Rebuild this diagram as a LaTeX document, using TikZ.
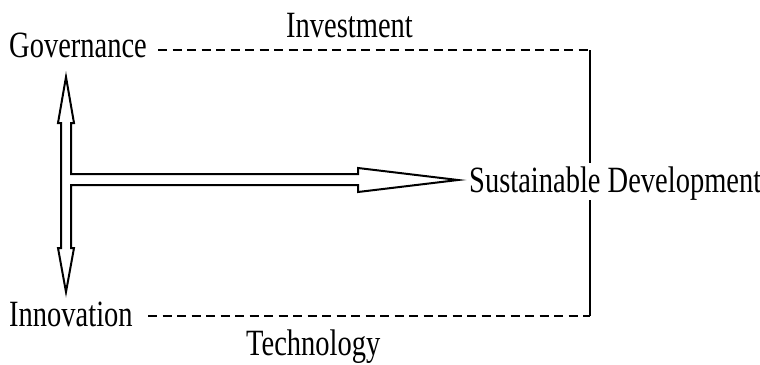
\documentclass[tikz,border=0pt]{standalone}
\usepackage{fontspec}
\setmainfont{Liberation Serif}
\newcommand{\tall}[1]{\scalebox{1}[1.3]{#1}}
\begin{document}
\begin{tikzpicture}[x=1pt,y=-1pt,
  lbl/.style={anchor=base west,inner sep=0pt,font=\fontsize{28.5}{30}\selectfont},
  dashline/.style={line width=2.2pt,dash pattern=on 9pt off 5.5pt},
  solidline/.style={line width=1.6pt},
  bigarrow/.style={line width=2pt,fill=white,line join=miter}]
\useasboundingbox (0,0) rectangle (760,364);
\node[lbl] (gov) at (9,57) {\tall{Governance}};
\node[lbl] (inv) at (286,37) {\tall{Investment}};
\node[lbl] (sd) at (469,192) {\tall{Sustainable Development}};
\node[lbl] (inn) at (9,326) {\tall{Innovation}};
\node[lbl] (tech) at (246,355) {\tall{Technology}};
% dashed frame
\coordinate (g1) at (158,50);
\coordinate (c1) at (590,50);
\coordinate (i1) at (148,316);
\coordinate (c2) at (590,316);
\draw[dashline] (g1) -- (c1);
\draw[dashline] (i1) -- (c2);
\draw[solidline] (c1) -- (590,163);
\draw[solidline] (590,200) -- (c2);
% T-shaped double arrow
\coordinate (tu) at (66,77);
\coordinate (td) at (66,292);
\coordinate (tr) at (458,180);
\draw[bigarrow] (tu) -- (74,123) -- (71,123) -- (71,174) -- (358,174) -- (358,168)
  -- (tr) -- (358,192) -- (358,185) -- (71,185) -- (71,248) -- (74,248)
  -- (td) -- (58,248) -- (61,248) -- (61,123) -- (58,123) -- cycle;
\end{tikzpicture}
\end{document}
